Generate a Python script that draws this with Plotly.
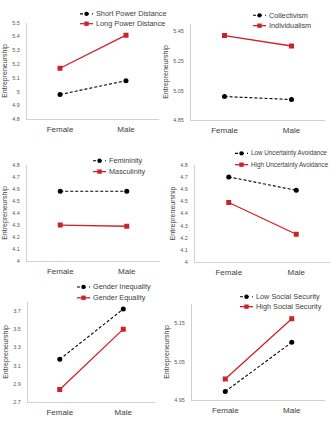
import plotly.graph_objects as go

# ---------------- data ----------------
categories = ["Female", "Male"]

short_power = [4.98, 5.08]
long_power = [5.17, 5.41]
collectivism = [5.01, 4.99]
individualism = [5.42, 5.35]
femininity = [4.58, 4.58]
masculinity = [4.30, 4.29]
low_ua = [4.70, 4.59]
high_ua = [4.49, 4.23]
gender_inequality = [3.17, 3.72]
gender_equality = [2.84, 3.50]
low_ss = [4.973, 5.10]
high_ss = [5.005, 5.161]

black_names = ["Short Power Distance", "Collectivism", "Femininity",
               "Low Uncertainty Avoidance", "Gender Inequality", "Low Social Security"]
red_names = ["Long Power Distance", "Individualism", "Masculinity",
             "High Uncertainty Avoidance", "Gender Equality", "High Social Security"]
black_values = [short_power, collectivism, femininity, low_ua, gender_inequality, low_ss]
red_values = [long_power, individualism, masculinity, high_ua, gender_equality, high_ss]

ytick_values = [
    [4.8, 4.9, 5.0, 5.1, 5.2, 5.3, 5.4, 5.5],
    [4.85, 5.05, 5.25, 5.45],
    [4.0, 4.1, 4.2, 4.3, 4.4, 4.5, 4.6, 4.7, 4.8],
    [4.0, 4.1, 4.2, 4.3, 4.4, 4.5, 4.6, 4.7, 4.8],
    [2.7, 2.9, 3.1, 3.3, 3.5, 3.7],
    [4.95, 5.05, 5.15],
]
ytick_labels = [
    ["4.8", "4.9", "5", "5.1", "5.2", "5.3", "5.4", "5.5"],
    ["4.85", "5.05", "5.25", "5.45"],
    ["4", "4.1", "4.2", "4.3", "4.4", "4.5", "4.6", "4.7", "4.8"],
    ["4", "4.1", "4.2", "4.3", "4.4", "4.5", "4.6", "4.7", "4.8"],
    ["2.7", "2.9", "3.1", "3.3", "3.5", "3.7"],
    ["4.95", "5.05", "5.15"],
]
y_ranges = [[4.8, 5.5], [4.85, 5.5], [4.0, 4.8], [4.0, 4.8], [2.7, 3.8], [4.95, 5.2]]

# ---------------- layout (pixels) ----------------
W, H = 330, 425
# x0, x1, ytop, ybottom of each plot area
areas = [
    (27, 159, 20, 118),
    (191, 325, 21, 119),
    (27, 160, 164, 262),
    (195, 330, 164, 263),
    (28, 155, 303, 405),
    (192, 325, 305, 403),
]
# legend: swatch start x, row1 y, row2 y, font size
legend_pos = [
    (80, 11, 21, 7.3),
    (253, 12.5, 23, 7.3),
    (93, 160, 171, 7.3),
    (235, 152.5, 164, 6.3),
    (77, 288, 299, 7.3),
    (240, 298, 308, 7.3),
]

RED = "#CC2229"
BLACK = "#000000"
AXIS = "#D0D0D0"
TXT = "#404040"
FONT = "Liberation Sans, Arial, sans-serif"

def px(x):
    return x / W

def py(y):
    return 1 - y / H

fig = go.Figure()
shapes = []
annotations = []

for i in range(6):
    suffix = "" if i == 0 else str(i + 1)
    xa, ya = "x" + suffix, "y" + suffix
    fig.add_trace(go.Scatter(
        x=categories, y=black_values[i], name=black_names[i], xaxis=xa, yaxis=ya,
        mode="lines+markers", showlegend=False,
        line=dict(color=BLACK, width=1.1, dash="3px,2px"),
        marker=dict(symbol="circle", size=5, color=BLACK)))
    fig.add_trace(go.Scatter(
        x=categories, y=red_values[i], name=red_names[i], xaxis=xa, yaxis=ya,
        mode="lines+markers", showlegend=False,
        line=dict(color=RED, width=1.3),
        marker=dict(symbol="square", size=5, color=RED)))

    x0, x1, yt, yb = areas[i]
    fig.layout["xaxis" + suffix] = dict(
        domain=[px(x0), px(x1)], anchor=ya, range=[-0.5, 1.5], type="category",
        showline=True, linecolor=AXIS, linewidth=1, showgrid=False, zeroline=False,
        ticks="", tickfont=dict(size=8, color=TXT, family=FONT), ticklabelstandoff=2)
    fig.layout["yaxis" + suffix] = dict(
        domain=[py(yb), py(yt)], anchor=xa, range=y_ranges[i],
        tickvals=ytick_values[i], ticktext=ytick_labels[i],
        showline=True, linecolor=AXIS, linewidth=1, showgrid=False, zeroline=False,
        ticks="", tickfont=dict(size=5.5, color="#595959", family=FONT),
        ticklabelstandoff=5,
        title=dict(text="Entrepreneurship", font=dict(size=7, color=TXT, family=FONT),
                   standoff=3))

    # custom compact legend
    lx, r1, r2, fs = legend_pos[i]
    for row_y, name, color, dash, sym in [
        (r1, black_names[i], BLACK, "dot", "circle"),
        (r2, red_names[i], RED, "solid", "square"),
    ]:
        shapes.append(dict(type="line", xref="paper", yref="paper",
                           x0=px(lx), x1=px(lx + 13), y0=py(row_y), y1=py(row_y),
                           line=dict(color=color, width=1.1 if dash == "dot" else 1.3,
                                     dash=dash)))
        cx = lx + 6.5
        shapes.append(dict(type="circle" if sym == "circle" else "rect",
                           xref="paper", yref="paper",
                           x0=px(cx - 2.2), x1=px(cx + 2.2),
                           y0=py(row_y + 2.2), y1=py(row_y - 2.2),
                           fillcolor=color, line=dict(color=color, width=0)))
        annotations.append(dict(text=name, xref="paper", yref="paper",
                                x=px(lx + 13.5), y=py(row_y), xanchor="left",
                                yanchor="middle", showarrow=False,
                                font=dict(size=fs, color=TXT, family=FONT)))

fig.update_layout(
    width=W, height=H, margin=dict(l=0, r=0, t=0, b=0),
    paper_bgcolor="white", plot_bgcolor="white",
    showlegend=False, shapes=shapes, annotations=annotations,
    font=dict(family=FONT),
)

fig.write_html("out.html")
